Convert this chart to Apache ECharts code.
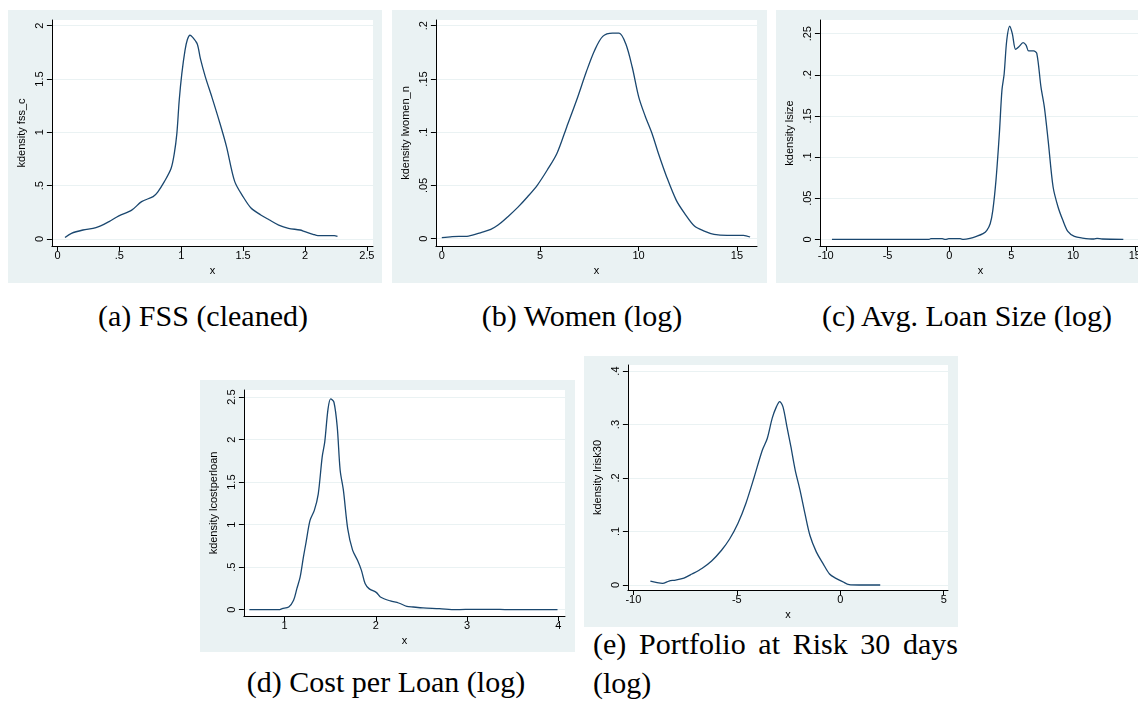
<!DOCTYPE html>
<html>
<head>
<meta charset="utf-8">
<script src="https://cdn.jsdelivr.net/npm/echarts@6/dist/echarts.min.js"></script>
<style>
html, body { margin: 0; padding: 0; width: 1138px; height: 702px; overflow: hidden; background: #fff; position: relative; }
.panel { position: absolute; background: #eaf2f3; }
.cap { position: absolute; font-family: "Liberation Serif", serif; font-size: 30px; line-height: 30px; color: #000; white-space: nowrap; }
</style>
</head>
<body>
<div class="panel" id="chartA" style="left:8px; top:10px; width:374px; height:273px"></div>
<div class="panel" id="chartB" style="left:392px; top:10px; width:375px; height:273px"></div>
<div class="panel" id="chartC" style="left:776px; top:10px; width:375px; height:273px"></div>
<div class="panel" id="chartD" style="left:200px; top:380px; width:375px; height:272px"></div>
<div class="panel" id="chartE" style="left:584px; top:356px; width:374px; height:271px"></div>

<div class="cap" style="left:203px; top:301px; transform: translateX(-50%)">(a) FSS (cleaned)</div>
<div class="cap" style="left:582px; top:301px; transform: translateX(-50%)">(b) Women (log)</div>
<div class="cap" style="left:967px; top:301px; transform: translateX(-50%)">(c) Avg. Loan Size (log)</div>
<div class="cap" style="left:386px; top:667px; transform: translateX(-50%)">(d) Cost per Loan (log)</div>
<div class="cap" style="left:593px; top:629px; width:365px; white-space: normal; text-align: justify; text-align-last: justify">(e) Portfolio at Risk 30 days</div>
<div class="cap" style="left:593px; top:668px">(log)</div>

<script>
// (a) FSS (cleaned)
const fssX = [0.061, 0.113, 0.206, 0.311, 0.417, 0.496, 0.6, 0.68, 0.773, 0.81, 0.865, 0.918, 0.944, 0.965, 0.984, 1.005, 1.031, 1.05, 1.071, 1.089, 1.129, 1.155, 1.195, 1.248, 1.314, 1.366, 1.432, 1.498, 1.564, 1.643, 1.71, 1.788, 1.867, 1.96, 1.999, 2.065, 2.105, 2.237, 2.263]
const fssY = [0.013, 0.053, 0.084, 0.106, 0.163, 0.216, 0.27, 0.35, 0.397, 0.44, 0.54, 0.66, 0.80, 0.99, 1.30, 1.55, 1.77, 1.87, 1.91, 1.895, 1.83, 1.69, 1.52, 1.33, 1.08, 0.866, 0.54, 0.40, 0.29, 0.225, 0.18, 0.13, 0.10, 0.084, 0.069, 0.044, 0.031, 0.031, 0.025]
const fssXTicks = [0, 0.5, 1, 1.5, 2, 2.5]
const fssYTicks = [0, 0.5, 1, 1.5, 2]

// (b) Women (log)
const womenX = [0, 0.53, 1.36, 2.03, 2.49, 2.86, 3.36, 3.86, 4.36, 4.86, 5.36, 5.85, 6.35, 6.85, 7.35, 7.77, 8.18, 8.68, 9.01, 9.35, 9.68, 10.01, 10.34, 10.68, 11.01, 11.43, 11.92, 12.34, 12.84, 13.34, 13.84, 14.5, 15.33, 15.67]
const womenY = [0.001, 0.002, 0.0025, 0.006, 0.0088, 0.0128, 0.0207, 0.0294, 0.0394, 0.0504, 0.0645, 0.080, 0.105, 0.130, 0.157, 0.177, 0.190, 0.193, 0.193, 0.183, 0.161, 0.133, 0.115, 0.099, 0.080, 0.058, 0.036, 0.0238, 0.0119, 0.0072, 0.0041, 0.0031, 0.0031, 0.0016]
const womenXTicks = [0, 5, 10, 15]
const womenYTicks = [0, 0.05, 0.1, 0.15, 0.2]

// (c) Avg. Loan Size (log)
const lsizeX = [-9.5, -1.64, -1.5, -0.58, -0.32, -0.05, 0.87, 1.13, 1.66, 2.19, 2.72, 3.03, 3.30, 3.51, 3.77, 4.04, 4.25, 4.43, 4.64, 4.88, 5.09, 5.36, 5.62, 5.96, 6.2, 6.41, 6.81, 7.07, 7.41, 7.68, 7.99, 8.39, 8.79, 9.18, 9.58, 10.11, 10.77, 11.69, 11.95, 12.35, 14.07]
const lsizeY = [0, 0, 0.0008, 0.0008, 0, 0.0008, 0.0008, 0, 0.0012, 0.0036, 0.0069, 0.011, 0.019, 0.035, 0.072, 0.128, 0.181, 0.201, 0.242, 0.259, 0.250, 0.231, 0.234, 0.239, 0.236, 0.229, 0.229, 0.226, 0.185, 0.161, 0.120, 0.0636, 0.0393, 0.0231, 0.0097, 0.0036, 0.0016, 0.0004, 0.0012, 0.0004, 0]
const lsizeXTicks = [-10, -5, 0, 5, 10, 15]
const lsizeYTicks = [0, 0.05, 0.1, 0.15, 0.2, 0.25]

// (d) Cost per Loan (log)
const costX = [0.616, 0.94, 0.975, 1.047, 1.10, 1.136, 1.172, 1.208, 1.237, 1.28, 1.327, 1.37, 1.413, 1.441, 1.477, 1.506, 1.542, 1.578, 1.610, 1.646, 1.693, 1.746, 1.80, 1.843, 1.883, 1.926, 2.008, 2.05, 2.16, 2.25, 2.34, 2.41, 2.518, 2.697, 2.877, 3.09, 3.27, 3.45, 3.99]
const costY = [0, 0, 0.012, 0.031, 0.11, 0.247, 0.384, 0.62, 0.795, 1.05, 1.168, 1.36, 1.795, 1.97, 2.36, 2.48, 2.44, 2.15, 1.64, 1.40, 0.95, 0.70, 0.58, 0.462, 0.306, 0.247, 0.20, 0.149, 0.102, 0.078, 0.039, 0.031, 0.02, 0.012, 0, 0.004, 0.004, 0, 0]
const costXTicks = [1, 2, 3, 4]
const costYTicks = [0, 0.5, 1, 1.5, 2, 2.5]

// (e) Portfolio at Risk 30 days (log)
const riskX = [-9.18, -8.91, -8.59, -8.28, -7.96, -7.56, -7.17, -6.69, -6.22, -5.74, -5.35, -4.95, -4.56, -4.16, -3.77, -3.53, -3.29, -3.09, -2.93, -2.77, -2.58, -2.39, -2.18, -1.95, -1.71, -1.47, -1.16, -0.84, -0.52, -0.21, 0.11, 0.43, 0.9, 1.93]
const riskY = [0.0075, 0.005, 0.0031, 0.0075, 0.0093, 0.013, 0.0206, 0.031, 0.045, 0.065, 0.086, 0.115, 0.153, 0.202, 0.252, 0.274, 0.312, 0.333, 0.343, 0.333, 0.296, 0.259, 0.215, 0.178, 0.134, 0.093, 0.062, 0.0405, 0.0206, 0.0125, 0.0062, 0.0006, 0, 0]
const riskXTicks = [-10, -5, 0, 5]
const riskYTicks = [0, 0.1, 0.2, 0.3, 0.4]

const stataNum = function(v) {
  return String(v).replace(/^0\./, '.').replace(/^-0\./, '-.')
}

const textStyle = { color: '#000', fontSize: 11, fontFamily: 'Liberation Sans' }

const drawDensity = function(id, p) {
  const chart = echarts.init(document.getElementById(id))
  chart.setOption({
    animation: false,
    grid: { left: p.left, top: p.top, width: p.width, height: p.height, show: true, backgroundColor: '#fff', borderWidth: 0 },
    xAxis: {
      type: 'value',
      min: p.xMin,
      max: p.xMax,
      name: 'x',
      nameLocation: 'middle',
      nameGap: 13,
      nameTextStyle: textStyle,
      axisLine: { show: true, onZero: false, lineStyle: { color: '#000', width: 1 } },
      axisTick: { show: true, length: 5, customValues: p.xTicks, lineStyle: { color: '#000', width: 1 } },
      axisLabel: Object.assign({ customValues: p.xTicks, margin: 4, formatter: stataNum }, textStyle),
      splitLine: { show: false }
    },
    yAxis: {
      type: 'value',
      min: p.yMin,
      max: p.yMax,
      name: p.yName,
      nameLocation: 'middle',
      nameRotate: 90,
      nameGap: 17,
      nameTextStyle: textStyle,
      axisLine: { show: true, onZero: false, lineStyle: { color: '#000', width: 1 } },
      axisTick: { show: true, length: 5, customValues: p.yTicks, lineStyle: { color: '#000', width: 1 } },
      axisLabel: Object.assign({ customValues: p.yTicks, margin: 6, rotate: 90, formatter: stataNum }, textStyle),
      splitLine: { show: true, lineStyle: { color: '#eaf2f3', width: 1 } }
    },
    series: [{
      type: 'line',
      data: p.xs.map((x, i) => [x, p.ys[i]]),
      smooth: 0.3,
      showSymbol: false,
      lineStyle: { color: '#1a476f', width: 1.3 },
      itemStyle: { color: '#1a476f' }
    }]
  })
}

drawDensity('chartA', { left: 37, top: 10, width: 328, height: 226, xMin: -0.045, xMax: 2.55, yMin: -0.066, yMax: 2.053,
  xs: fssX, ys: fssY, xTicks: fssXTicks, yTicks: fssYTicks, yName: 'kdensity fss_c' })
drawDensity('chartB', { left: 38, top: 10, width: 327, height: 226, xMin: -0.3, xMax: 16.02, yMin: -0.00685, yMax: 0.2054,
  xs: womenX, ys: womenY, xTicks: womenXTicks, yTicks: womenYTicks, yName: 'kdensity lwomen_n' })
drawDensity('chartC', { left: 37, top: 10, width: 328, height: 226, xMin: -10.475, xMax: 15.5, yMin: -0.0081, yMax: 0.2666,
  xs: lsizeX, ys: lsizeY, xTicks: lsizeXTicks, yTicks: lsizeYTicks, yName: 'kdensity lsize' })
drawDensity('chartD', { left: 38, top: 10, width: 327, height: 226, xMin: 0.556, xMax: 4.072, yMin: -0.075, yMax: 2.584,
  xs: costX, ys: costY, xTicks: costXTicks, yTicks: costYTicks, yName: 'kdensity lcostperloan' })
drawDensity('chartE', { left: 38, top: 9, width: 326, height: 225, xMin: -10.266, xMax: 5.206, yMin: -0.0093, yMax: 0.4113,
  xs: riskX, ys: riskY, xTicks: riskXTicks, yTicks: riskYTicks, yName: 'kdensity lrisk30' })
</script>
</body>
</html>
